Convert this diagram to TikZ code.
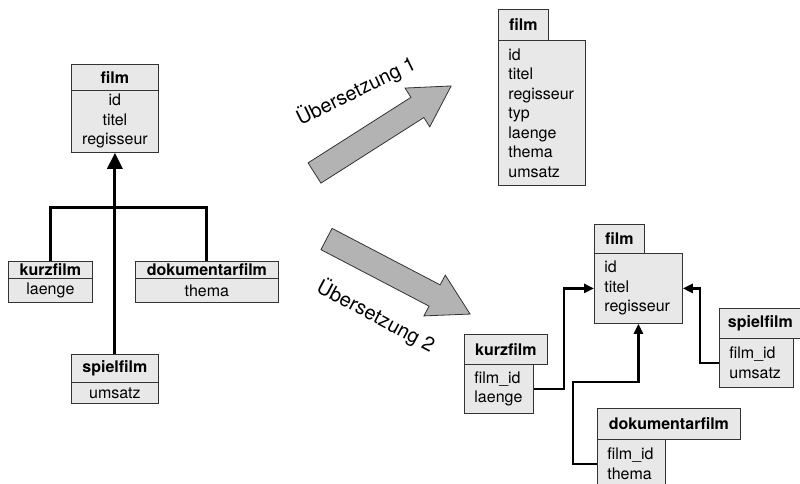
\documentclass[tikz,border=0pt]{standalone}
\usepackage{fontspec}
\setmainfont{TeX Gyre Heros}
\usetikzlibrary{arrows.meta}

\definecolor{boxfill}{HTML}{E8E8E8}
\definecolor{arrowfill}{HTML}{B3B3B3}
\definecolor{boxline}{HTML}{333333}

\tikzset{
  tbl/.style={draw=boxline, fill=boxfill, line width=0.8pt, inner sep=0pt,
    anchor=north west, font=\fontsize{16}{19.5}\selectfont},
  hdr/.style={tbl, font=\fontsize{16}{19.5}\selectfont\bfseries},
  colc/.style={tbl, align=center},
  coll/.style={tbl, align=left, inner xsep=10pt},
  isa/.style={line width=3pt, -{Triangle[width=15pt,length=16pt]}},
  fk/.style={line width=2.5pt, -{Triangle[width=9pt,length=10pt]}},
  bigarrow/.style={draw=boxline, fill=arrowfill, line width=0.8pt, line join=miter},
  translabel/.style={font=\fontsize{20}{24}\selectfont, inner sep=0pt}
}

\begin{document}
\begin{tikzpicture}[x=1pt, y=-1pt]
\useasboundingbox (0,0) rectangle (800,484);

% ---- class hierarchy ----
\node[hdr,  minimum width=87pt, minimum height=26pt] (lfilmh) at (71,64) {film};
\node[colc, minimum width=87pt, minimum height=62pt, text width=87pt] (lfilmb) at (71,90) {id\\titel\\regisseur};

\node[hdr,  minimum width=84pt, minimum height=17pt] (lkurzh) at (8,261) {kurzfilm};
\node[colc, minimum width=84pt, minimum height=24pt, text width=84pt] (lkurzb) at (8,278) {laenge};

\node[hdr,  minimum width=143pt, minimum height=17pt] (ldokuh) at (135,261) {dokumentarfilm};
\node[colc, minimum width=143pt, minimum height=24pt, text width=143pt] (ldokub) at (135,278) {thema};

\node[hdr,  minimum width=87pt, minimum height=28pt] (lspielh) at (71,354) {spielfilm};
\node[colc, minimum width=87pt, minimum height=21pt, text width=87pt] (lspielb) at (71,382) {umsatz};

\coordinate (lfork) at (114.5,207);
\draw[line width=3pt] (lkurzh.north) |- (lfork) -| (ldokuh.north);
\draw[isa] (lspielh.north) -- (lfilmb.south);

% ---- translation arrows ----
\begin{scope}[shift={(314.5,173)}, rotate=32.5]
  \draw[bigarrow] (0,-12) -- (122,-12) -- (122,-23) -- (162,0) -- (122,23) -- (122,12) -- (0,12) -- cycle;
\end{scope}
\begin{scope}[shift={(326.5,239)}, rotate=-27.6]
  \draw[bigarrow] (0,-12) -- (122,-12) -- (122,-23) -- (162,0) -- (122,23) -- (122,12) -- (0,12) -- cycle;
\end{scope}
\node[translabel, rotate=26] (t1) at (356,91) {Übersetzung 1};
\node[translabel, rotate=-28] (t2) at (376,316) {Übersetzung 2};

% ---- single table ----
\node[hdr,  minimum width=50pt, minimum height=31pt] (rfilm1h) at (498,9) {film};
\node[coll, minimum width=87pt, minimum height=145pt, text width=67pt] (rfilm1b) at (498,40)
  {id\\titel\\regisseur\\typ\\laenge\\thema\\umsatz};

% ---- one table per class ----
\node[hdr,  minimum width=50pt, minimum height=29pt] (rfilm2h) at (594,224) {film};
\node[coll, minimum width=88pt, minimum height=70pt, text width=68pt] (rfilm2b) at (594,253) {id\\titel\\regisseur};

\node[hdr,  minimum width=83pt, minimum height=30pt] (rkurzh) at (464,334) {kurzfilm};
\node[coll, minimum width=69pt, minimum height=49pt, text width=49pt] (rkurzb) at (464,364) {film\_id\\laenge};

\node[hdr,  minimum width=82pt, minimum height=30pt] (rspielh) at (719,308) {spielfilm};
\node[coll, minimum width=74pt, minimum height=49pt, text width=54pt] (rspielb) at (719,338) {film\_id\\umsatz};

\node[hdr,  minimum width=143pt, minimum height=31pt] (rdokuh) at (597,408) {dokumentarfilm};
\node[coll, minimum width=68pt, minimum height=49pt, text width=48pt] (rdokub) at (597,439) {film\_id\\thema};

\draw[fk] (rkurzb.east) -- ++(30,0) |- (rfilm2b.west);
\draw[fk] (rspielb.west) -- ++(-19,0) |- (rfilm2b.east);
\draw[fk] (rdokub.west) -| ++(-24,-82) -| (rfilm2b.south);
\end{tikzpicture}
\end{document}
